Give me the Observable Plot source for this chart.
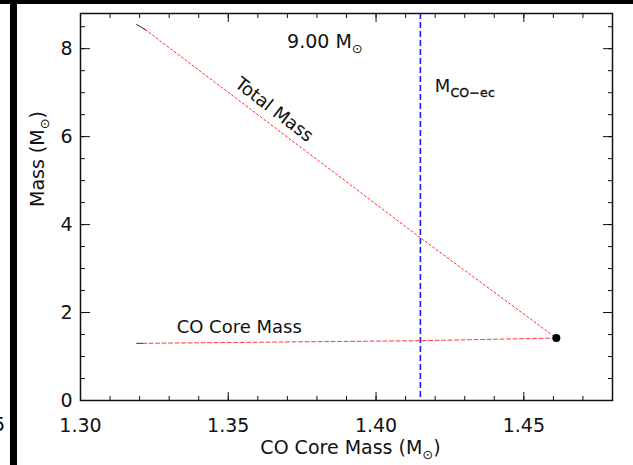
<!DOCTYPE html>
<html>
<head>
<meta charset="utf-8">
<script src="https://cdn.jsdelivr.net/npm/d3@7"></script>
<script src="https://cdn.jsdelivr.net/npm/@observablehq/plot@0.6"></script>
<style>
  body { margin: 0; background: #fff; }
  #chart { position: relative; width: 633px; height: 465px; overflow: hidden; background: #fff; }
  #chart svg { position: absolute; left: 0; top: 0; }
  .bar { position: absolute; background: #000; }
  .edge { position: absolute; font-family: "DejaVu Sans", sans-serif; font-size: 19px; line-height: 1; }
</style>
</head>
<body>
<div id="chart"></div>
<script>
// Evolution of a 9.00 Msun model: total mass and CO core mass against CO core mass
const totalX    = [1.319, 1.322, 1.415, 1.461];
const totalMass = [8.55, 8.43, 3.70, 1.42];
const coreX     = [1.319, 1.321, 1.415, 1.461];
const coreMass  = [1.30, 1.30, 1.36, 1.42];
const finalPoint = [{x: 1.461, y: 1.42}];
const mCOec = 1.415;

// axis ticks and labels
const xMajor = [1.30, 1.35, 1.40, 1.45];
const yMajor = [0, 2, 4, 6, 8];
const xMinor = d3.range(130, 149).map(d => d / 100);
const yMinor = d3.range(0, 18).map(d => d / 2);

const rows = (xs, ys) => xs.map((x, i) => ({x, y: ys[i]}));
const total = rows(totalX, totalMass);
const core = rows(coreX, coreMass);

// inward tick marks on all four sides of the frame
function ticks(axis, values, anchor, size) {
  const shift = {bottom: {dy: -size}, top: {dy: size}, left: {dx: size}, right: {dx: -size}}[anchor];
  return axis(values, {anchor, tickSize: size, tickFormat: () => "", label: null, stroke: "#111", ...shift});
}

const plot = Plot.plot({
  width: 633,
  height: 465,
  marginLeft: 80,
  marginRight: 21,
  marginTop: 13,
  marginBottom: 65,
  style: {fontFamily: "DejaVu Sans, sans-serif", fontSize: "19px", background: "transparent", color: "#111"},
  x: {domain: [1.30, 1.48]},
  y: {domain: [0, 8.8]},
  marks: [
    // M_CO-ec threshold
    Plot.ruleX([mCOec], {stroke: "#1a1aff", strokeWidth: 1.6, strokeDasharray: "6,3"}),
    // total mass track: first step dark, rest dotted red
    Plot.line(total.slice(1), {x: "x", y: "y", stroke: "#ff2a2a", strokeWidth: 1, strokeDasharray: "2,2.5"}),
    Plot.line(total.slice(0, 2), {x: "x", y: "y", stroke: "#222", strokeWidth: 1}),
    // CO core mass track
    Plot.line(core.slice(1), {x: "x", y: "y", stroke: "#ff3a3a", strokeWidth: 1, strokeDasharray: "4,2.5"}),
    Plot.line(core.slice(0, 2), {x: "x", y: "y", stroke: "#333", strokeWidth: 1}),
    Plot.dot(finalPoint, {x: "x", y: "y", r: 4, fill: "#000", stroke: null}),

    // frame and ticks
    Plot.frame({stroke: "#111", strokeWidth: 1.5}),
    ticks(Plot.axisX, xMinor, "bottom", 4),
    ticks(Plot.axisX, xMajor, "bottom", 8),
    ticks(Plot.axisX, xMinor, "top", 4),
    ticks(Plot.axisX, xMajor, "top", 8),
    ticks(Plot.axisY, yMinor, "left", 5),
    ticks(Plot.axisY, yMajor, "left", 10),
    ticks(Plot.axisY, yMinor, "right", 5),
    ticks(Plot.axisY, yMajor, "right", 10),

    // tick labels
    Plot.axisX(xMajor, {anchor: "bottom", tickSize: 0, tickPadding: 18, tickFormat: d3.format(".2f"), label: null, fontSize: 19}),
    Plot.axisY(yMajor, {anchor: "left", tickSize: 0, tickPadding: 8, tickFormat: d3.format("d"), label: null, fontSize: 19}),

    // axis titles
    Plot.text(["CO Core Mass (M_{⊙})"], {frameAnchor: "bottom", dy: 53, dx: 4, fontSize: 19, letterSpacing: 0.3}),
    Plot.text(["Mass (M_{⊙})"], {frameAnchor: "left", dx: -43, rotate: -90, fontSize: 19}),

    // annotations
    Plot.text(["9.00 M_{⊙}"], {x: () => 1.3699, y: () => 8.16, textAnchor: "start", fontSize: 19}),
    Plot.text(["M_{CO−ec}"], {x: () => 1.4199, y: () => 7.14, textAnchor: "start", fontSize: 18}),
    Plot.text(["Total Mass"], {x: () => 1.3655, y: () => 6.61, rotate: 37.5, fontSize: 18, letterSpacing: 0.6}),
    Plot.text(["CO Core Mass"], {x: () => 1.3537, y: () => 1.67, fontSize: 18, letterSpacing: 1})
  ]
});

// turn "A_{b}c" strings into text with a subscript tspan
d3.select(plot).selectAll("text").each(function () {
  const m = this.textContent.match(/^(.*?)_\{(.*?)\}(.*)$/);
  if (!m) return;
  const t = d3.select(this).text(null);
  t.append("tspan").text(m[1]);
  const wide = m[2].length > 1;
  t.append("tspan")
    .attr("dy", 5)
    .attr("font-size", wide ? 12.5 : 13)
    .attr("letter-spacing", wide ? 0.2 : 0)
    .attr("stroke", wide ? "currentColor" : null)
    .attr("stroke-width", wide ? 0.35 : null)
    .text(m[2]);
  if (m[3]) t.append("tspan").attr("dy", -5).text(m[3]);
});

const chart = document.getElementById("chart");
chart.append(plot);

// dark edges along the left and top of the page
const bars = [
  {left: 10, top: 0, width: 7, height: 465},
  {left: 0, top: 0, width: 633, height: 4}
];
for (const b of bars) {
  const d = document.createElement("div");
  d.className = "bar";
  Object.assign(d.style, {left: b.left + "px", top: b.top + "px", width: b.width + "px", height: b.height + "px"});
  chart.append(d);
}
const edgeLabel = document.createElement("div");
edgeLabel.className = "edge";
edgeLabel.textContent = "5";
Object.assign(edgeLabel.style, {left: "-7px", top: "415px"});
chart.append(edgeLabel);
</script>
</body>
</html>
